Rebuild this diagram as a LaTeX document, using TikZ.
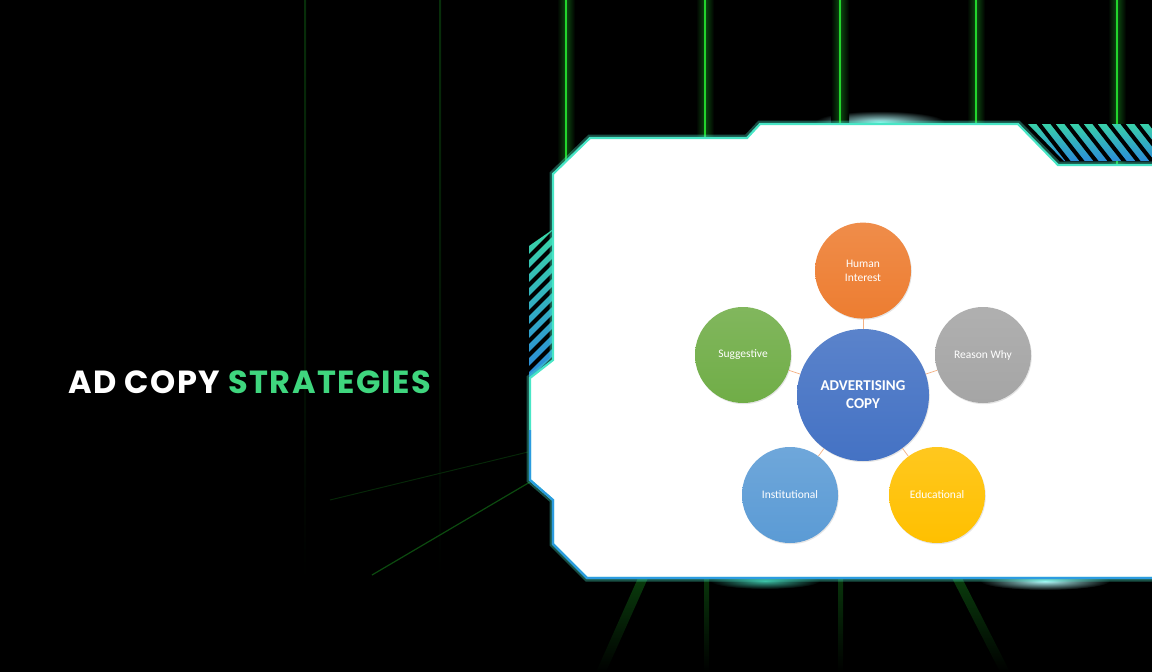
\documentclass[tikz,border=0pt]{standalone}
\usepackage{fontspec}
\newfontfamily\titlefont{Poppins}[LetterSpace=4.5]
\newfontfamily\carlito{Carlito}
\usetikzlibrary{positioning,shadows}

\definecolor{glowgreen}{HTML}{22D42C}
\definecolor{titlegreen}{HTML}{3FD67E}
\definecolor{rimteal}{HTML}{48E6C6}
\definecolor{rimblue}{HTML}{2C9BE0}
\definecolor{stripeteal}{HTML}{3AD7A4}
\definecolor{stripeblue}{HTML}{2A86DE}
\definecolor{copyorange}{HTML}{ED7D31}
\definecolor{copygray}{HTML}{A5A5A5}
\definecolor{copygreen}{HTML}{70AD47}
\definecolor{copyblue}{HTML}{4472C4}
\definecolor{copysky}{HTML}{5B9BD5}
\definecolor{copygold}{HTML}{FFC000}
\definecolor{linkorange}{HTML}{F4B183}

\newcommand\panelpath{(590,138) -- (747,138) -- (760,124) -- (1018,124) -- (1058,165) -- (1165,165) -- (1165,578) -- (587,578) -- (553,544) -- (553,500) -- (530,480) -- (530,378) -- (553,360) -- (553,174) -- cycle}

\tikzset{
  bubble/.style={circle, minimum size=96pt, inner sep=0pt, text=white, align=center,
    font=\carlito\fontsize{11.5}{13.5}\selectfont,
    top color=#1!88!white, bottom color=#1,
    drop shadow={opacity=.2, shadow xshift=.8pt, shadow yshift=-1.2pt}},
  corebubble/.style={bubble=copyblue, minimum size=132pt,
    font=\carlito\bfseries\fontsize{15}{18}\selectfont},
  link/.style={draw=linkorange, line width=.7pt},
  beam/.style={left color=black, right color=black, middle color=#1}
}

\begin{document}
\begin{tikzpicture}[x=1pt, y=-1pt]

    % Background
    \fill[black] (0,0) rectangle (1152,672);
    \useasboundingbox (0,0) rectangle (1152,672);

    \shade[inner color=cyan!30!white, outer color=black] (880,122) ellipse (65pt and 11pt);
    \shade[inner color=rimteal!80!black, outer color=black] (765,581) ellipse (55pt and 8pt);
    \shade[inner color=cyan!30!white, outer color=black] (1045,581) ellipse (65pt and 9pt);

    \foreach \bx in {305,440} {
        \shade[top color=glowgreen!22!black, bottom color=black] (\bx-1,0) rectangle (\bx+1,580);
    }
    \foreach \bx in {566,705,840,976,1117} {
        \shade[beam=glowgreen!35!black] (\bx-9,0) rectangle (\bx+9,200);
        \draw[glowgreen, line width=1.6pt] (\bx,0) -- (\bx,200);
    }

    % Beams below the panel
    \shade[top color=glowgreen!28!black, bottom color=black] (638,578) -- (648,578) -- (606,672) -- (596,672) -- cycle;
    \shade[top color=glowgreen!25!black, bottom color=black] (704,578) -- (709,578) -- (709,672) -- (704,672) -- cycle;
    \shade[top color=glowgreen!25!black, bottom color=black] (838,578) -- (843,578) -- (843,672) -- (838,672) -- cycle;
    \shade[top color=glowgreen!28!black, bottom color=black] (952,578) -- (962,578) -- (1010,672) -- (1000,672) -- cycle;
    \draw[glowgreen!35!black, line width=1.2pt] (530,482) -- (372,575);
    \draw[glowgreen!18!black, line width=1pt] (528,452) -- (330,500);

    % Stripes
    \begin{scope}
        \clip (1028,124) -- (1165,124) -- (1165,161) -- (1064,161) -- cycle;
        \shade[top color=stripeteal, bottom color=stripeblue] (1000,120) rectangle (1165,165);
        \foreach \sx in {990,1004,...,1180} \draw[black, line width=4pt] (\sx,115) -- (\sx+43,170);
    \end{scope}
    \begin{scope}
        \clip (529,246) -- (552,230) -- (552,362) -- (529,382) -- cycle;
        \shade[top color=stripeteal, bottom color=stripeblue] (525,225) rectangle (556,385);
        \foreach \sy in {222,236,...,410} \draw[black, line width=4pt] (522,\sy) -- (560,\sy-38);
    \end{scope}

    % Panel
    \draw[rimteal, line width=7pt, opacity=.35] \panelpath;
    \fill[white] \panelpath;
    \draw[rimteal, line width=2.2pt] \panelpath;
    \draw[rimblue, line width=2.2pt] (530,430) -- (530,480) -- (553,500) -- (553,544) -- (587,578) -- (1165,578);

    % Title
    \node[anchor=base west, inner sep=0pt, text=white,
        font=\titlefont\bfseries\fontsize{32}{36}\selectfont] (title) at (68,393)
        {AD COPY \textcolor{titlegreen}{STRATEGIES}};

    % Nodes

    \node[corebubble] (copy) at (863,395) {ADVERTISING\\COPY};
    \node[bubble=copyorange, above=10pt of copy] (human) {Human\\Interest};
    \node[bubble=copygray] (reason) at ([shift={(120,-40)}]copy) {Reason Why};
    \node[bubble=copygreen] (suggest) at ([shift={(-120,-40)}]copy) {Suggestive};
    \node[bubble=copysky] (inst) at ([shift={(-73,100)}]copy) {Institutional};
    \node[bubble=copygold] (edu) at ([shift={(74,100)}]copy) {Educational};

    % Edges

    \foreach \n in {human,reason,suggest,inst,edu}
        \draw[link] (copy) -- (\n);

\end{tikzpicture}
\end{document}
